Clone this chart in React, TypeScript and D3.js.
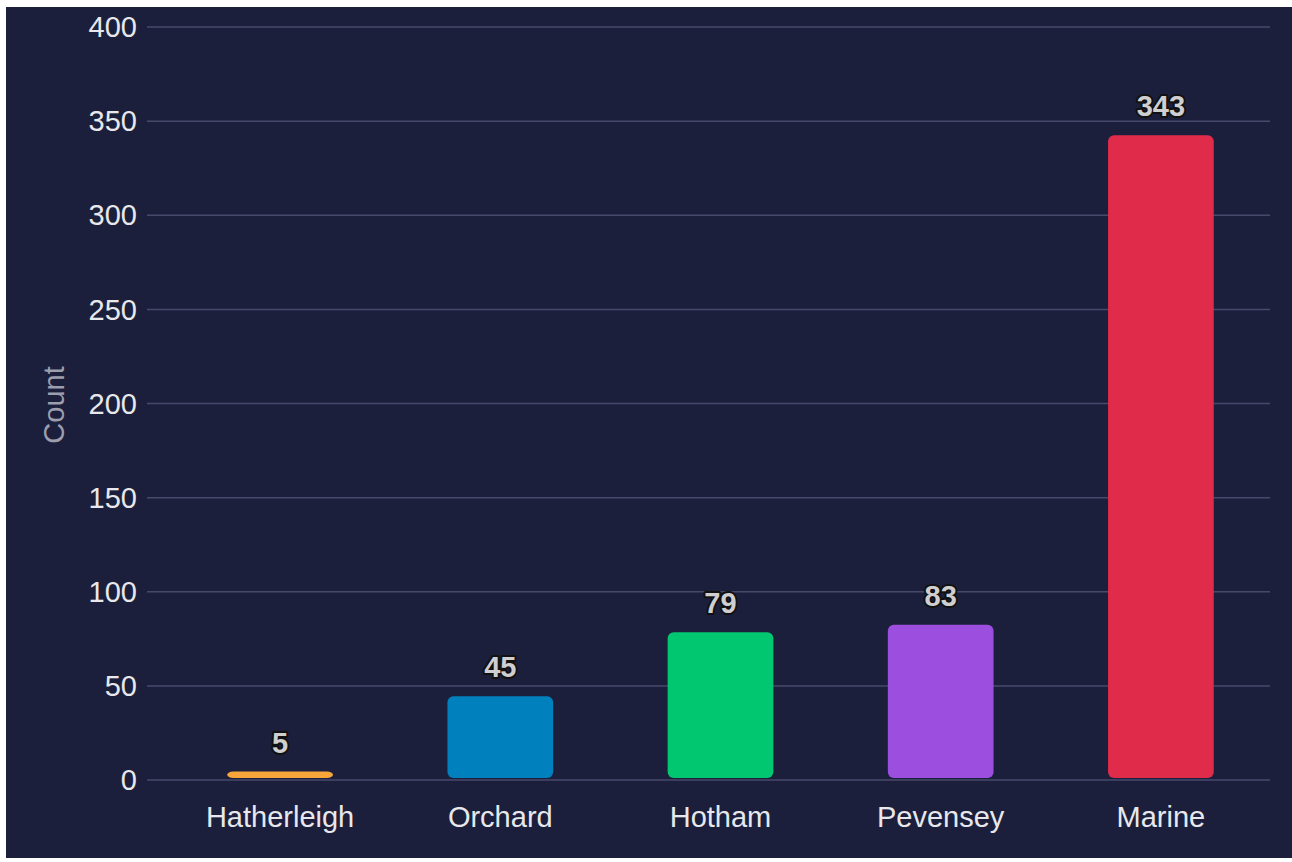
import React from "react";
import * as d3 from "d3";

const categories = ["Hatherleigh", "Orchard", "Hotham", "Pevensey", "Marine"];
const counts = [5, 45, 79, 83, 343];
const barColors = ["#f8a53a", "#0080bd", "#00c770", "#9c4fdf", "#e02c4a"];
const yTicks = [0, 50, 100, 150, 200, 250, 300, 350, 400];

const W = 1292;
const H = 862;
const bg = { x: 6, y: 7, w: 1286, h: 851 };
const plot = { left: 170, right: 1271, top: 27, bottom: 780 };

export default function App() {
  const x = d3
    .scaleBand<string>()
    .domain(categories)
    .range([plot.left, plot.right])
    .paddingInner(0.52)
    .paddingOuter(0.26);
  const y = d3.scaleLinear().domain([0, 400]).range([plot.bottom, plot.top]);
  const font = "Arial, 'Liberation Sans', sans-serif";

  return (
    <svg
      width={W}
      height={H}
      style={{ position: "absolute", left: 0, top: 0 }}
      fontFamily={font}
    >
      <rect x={0} y={0} width={W} height={H} fill="#ffffff" />
      <rect x={bg.x} y={bg.y} width={bg.w} height={bg.h} fill="#1c1f3c" />
      {yTicks.map((t) => (
        <g key={t}>
          <line
            x1={147}
            x2={1270}
            y1={y(t)}
            y2={y(t)}
            stroke="#464a6a"
            strokeWidth={1.5}
          />
          <text
            x={137}
            y={y(t)}
            dy="0.35em"
            textAnchor="end"
            fill="#e8e8ec"
            fontSize={29}
          >
            {t}
          </text>
        </g>
      ))}
      <text
        transform={`translate(54,405) rotate(-90)`}
        dy="0.35em"
        textAnchor="middle"
        fill="#9c9eae"
        fontSize={29}
      >
        Count
      </text>
      {categories.map((c, i) => {
        const bx = x(c)!;
        const top = y(counts[i]) + 1;
        const h = plot.bottom - 2 - top;
        return (
          <g key={c}>
            <rect
              x={bx}
              y={top}
              width={x.bandwidth()}
              height={Math.max(h, 0)}
              rx={6}
              ry={Math.min(6, h / 2)}
              fill={barColors[i]}
            />
            <text
              x={bx + x.bandwidth() / 2}
              y={top - 19}
              textAnchor="middle"
              fontSize={29}
              fontWeight="bold"
              fill="#cfcfd2"
              stroke="#111111"
              strokeWidth={4}
              strokeLinejoin="round"
              style={{ paintOrder: "stroke" }}
            >
              {counts[i]}
            </text>
            <text
              x={bx + x.bandwidth() / 2}
              y={817}
              dy="0.35em"
              textAnchor="middle"
              fill="#e8e8ec"
              fontSize={29}
            >
              {c}
            </text>
          </g>
        );
      })}
    </svg>
  );
}
